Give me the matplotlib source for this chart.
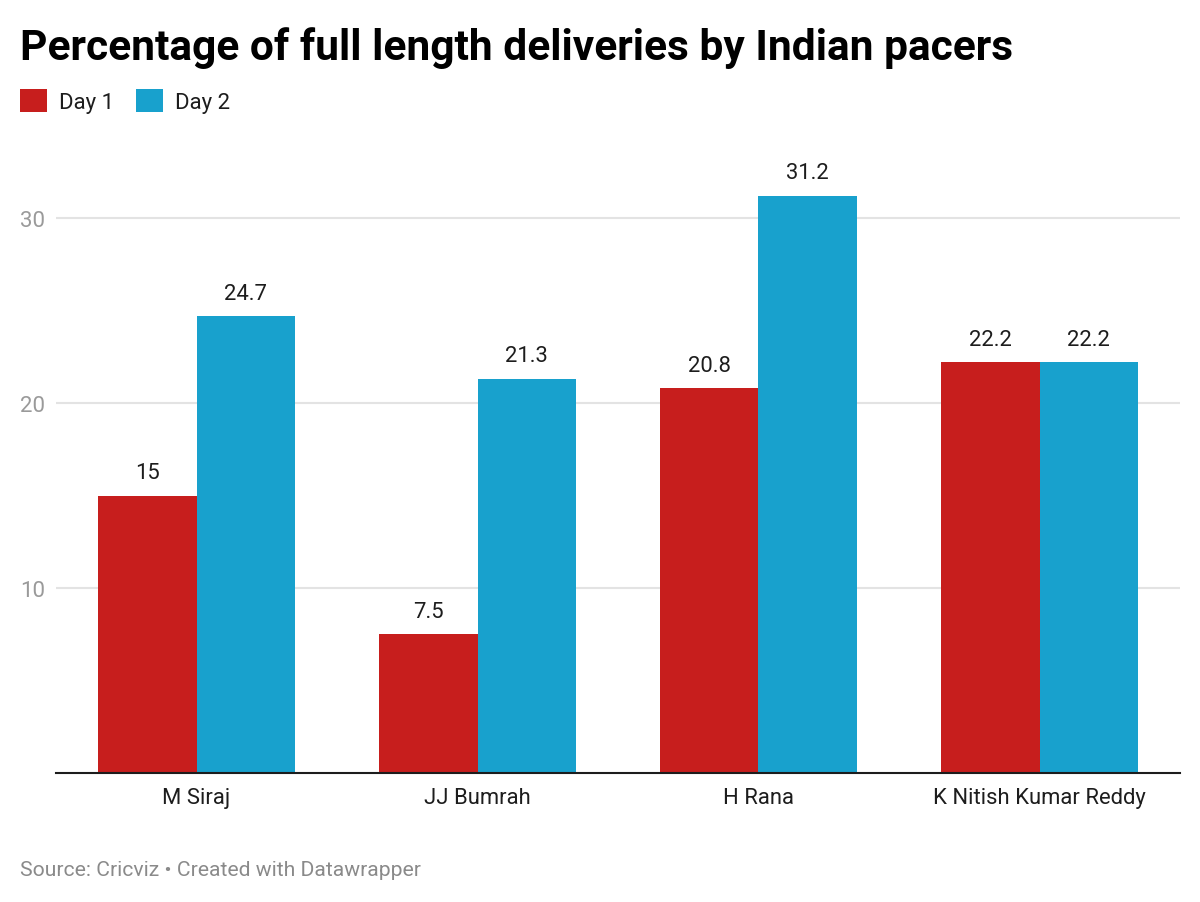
import matplotlib.pyplot as plt
import numpy as np

players = ["M Siraj", "JJ Bumrah", "H Rana", "K Nitish Kumar Reddy"]
day1 = [15, 7.5, 20.8, 22.2]
day2 = [24.7, 21.3, 31.2, 22.2]
y_ticks = [10, 20, 30]

red = '#c71e1d'
blue = '#18a1cd'

plt.rcParams['font.family'] = ['Roboto', 'DejaVu Sans']

fig = plt.figure(figsize=(12, 9.03), dpi=100)
# axes: x from 56px to 1180px, y from 145px to 774px
ax = fig.add_axes([56 / 1200, 1 - 774 / 903, (1180 - 56) / 1200, (774 - 145) / 903])

x = np.arange(len(players))
w = 0.35
b1 = ax.bar(x - w / 2, day1, width=w, color=red, label='Day 1', zorder=3)
b2 = ax.bar(x + w / 2, day2, width=w, color=blue, label='Day 2', zorder=3)

for bars, vals in [(b1, day1), (b2, day2)]:
    for bar, v in zip(bars, vals):
        ax.annotate(f"{v:g}", (bar.get_x() + bar.get_width() / 2, v),
                    xytext=(0, 9), textcoords='offset points',
                    ha='center', va='bottom', fontsize=15.8, color='#1d1d1d')

ax.set_xlim(-0.5, 3.5)
ax.set_ylim(0, 34)
ax.set_xticks(x)
ax.set_xticklabels(players, fontsize=15.8, color='#1d1d1d')
ax.set_yticks(y_ticks)
ax.set_yticklabels([str(t) for t in y_ticks], fontsize=16, color='#9a9a9a')
for lbl in ax.get_yticklabels():
    lbl.set_horizontalalignment('left')
ax.tick_params(axis='y', length=0, pad=26)
ax.tick_params(axis='x', length=0, pad=10)
ax.yaxis.grid(True, color='#e3e3e3', linewidth=1.5, zorder=0)

for s in ['top', 'right', 'left']:
    ax.spines[s].set_visible(False)
ax.spines['bottom'].set_color('#1d1d1d')
ax.spines['bottom'].set_linewidth(1.5)
ax.spines['bottom'].set_zorder(4)

fig.text(20 / 1200, 1 - 60 / 903, "Percentage of full length deliveries by Indian pacers",
         fontsize=30.6, fontweight='bold', color='#000000', ha='left', va='baseline')

fig.legend(handles=[b1, b2], labels=['Day 1', 'Day 2'], loc='upper left',
           bbox_to_anchor=(20 / 1200, 1 - 90 / 903), ncol=2, frameon=False,
           fontsize=16, handlelength=1.2, handleheight=1.2, handletextpad=0.55,
           columnspacing=1.0, borderpad=0, borderaxespad=0, labelcolor='#1d1d1d')

fig.text(20 / 1200, 1 - 876 / 903, "Source: Cricviz \u2022 Created with Datawrapper",
         fontsize=15.2, color='#8a8a8a', ha='left', va='baseline')

fig.savefig('out.png', dpi=100, facecolor='white')
